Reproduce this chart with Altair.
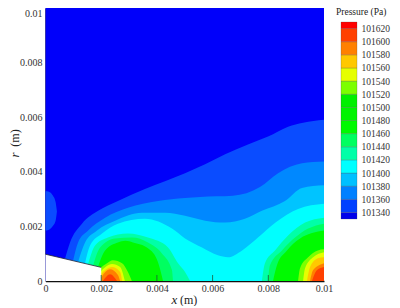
import altair as alt
import pandas as pd

# contour levels: x and top r, both in mm
base_x = [0, 10]; base_y = [10, 10]
a_x = [0.70,0.88,1.31,1.89,2.60,3.57,5.01,5.73,6.45,7.27,7.99,8.71,9.25,10]
a_y = [0.81,1.41,2.10,2.57,2.93,3.37,3.95,4.28,4.64,5.00,5.29,5.65,5.80,5.91]
b_x = [0.99,1.17,1.53,2.14,2.96,4.04,5.01,5.55,6.73,7.70,8.35,9.21,10]
b_y = [0.74,1.41,1.85,2.32,2.68,2.93,3.04,3.08,3.12,3.44,3.95,4.31,4.38]
c_x = [1.17,1.42,1.85,2.50,3.46,4.29,5.01,5.73,6.45,7.16,7.77,8.60,9.21,10]
c_y = [0.70,1.41,1.85,2.21,2.50,2.50,2.39,2.21,2.14,2.28,2.57,2.93,3.41,3.51]
d_x = [1.42,1.60,2.03,2.60,3.57,4.54,5.01,5.62,6.19,6.55,7.06,7.63,8.26,9.07,10]
d_y = [0.64,1.30,1.74,2.10,2.28,1.92,1.56,1.23,0.94,0.87,1.12,1.59,2.14,2.64,2.83]
e1_x = [1.53,1.78,2.24,2.96,3.68,4.40,4.76,5.01,5.19]
e1_y = [0.62,1.30,1.59,1.74,1.59,1.23,0.65,0.33,0]
e2_x = [7.77,7.88,8.24,8.71,9.32,10]
e2_y = [0,0.65,1.12,1.67,2.14,2.32]
f1_x = [1.71,1.96,2.50,3.11,3.68,4.18,4.54,4.58]
f1_y = [0.58,1.23,1.56,1.59,1.41,1.01,0.40,0]
f2_x = [7.99,8.06,8.49,8.96,9.43,10]
f2_y = [0,0.58,1.12,1.59,1.92,2.10]
g1_x = [1.89,2.14,2.60,2.87,3.14,3.68,4.04,4.22]
g1_y = [0.54,1.12,1.41,1.47,1.41,1.20,0.69,0]
g2_x = [8.17,8.31,8.67,9.14,10]
g2_y = [0,0.58,1.12,1.56,1.85]
l1_x = [1.96,2.21,2.42,2.75,2.96,3.10]
l1_y = [0.47,0.65,0.76,0.65,0.33,0]
l2_x = [9.07,9.14,9.43,9.78,10]
l2_y = [0,0.47,0.87,1.12,1.16]
y1_x = [1.96,2.39,2.68,2.85]
y1_y = [0.33,0.62,0.51,0]
y2_x = [9.25,9.32,9.61,10]
y2_y = [0,0.47,0.87,1.05]
m1_x = [1.96,2.39,2.68,2.75]
m1_y = [0.22,0.51,0.33,0]
m2_x = [9.39,9.50,9.78,10]
m2_y = [0,0.51,0.83,0.87]
o1_x = [1.96,2.32,2.60,2.68]
o1_y = [0.07,0.43,0.22,0]
o2_x = [9.50,9.61,10]
o2_y = [0,0.40,0.65]
r1_x = [2.06,2.32,2.57]
r1_y = [0,0.25,0]
r2_x = [9.57,9.75,10]
r2_y = [0,0.40,0.51]
wedge_x = [0, 2]
wedge_y = [0.98, 0.50]
# left-wall blob
blob_x = [0, 0.10, 0.25, 0.36, 0.41]
blob_top = [3.30, 3.28, 3.15, 2.90, 2.55]
blob_bot = [1.85, 1.87, 2.0, 2.20, 2.55]

levels = [101340 + 20*i for i in range(15)]
legend_lo = [101330] + levels
legend_hi = levels + [101630]
legend_colors = ['#0000ea','#0040ff','#0080ff','#00c0ff','#00ffff','#00ffa8','#00ff60','#00fa00',
                 '#00f400','#00f000','#7cff00','#e6ff00','#ffc800','#ff8000','#ff4000','#ff0000']

xt = [0, 0.002, 0.004, 0.006, 0.008, 0.01]
yt = [0, 0.002, 0.004, 0.006, 0.008, 0.01]

SERIF = 'Liberation Serif'
xs = alt.Scale(domain=[0, 0.01], nice=False)
ys = alt.Scale(domain=[0, 0.01], nice=False)
xaxis = alt.Axis(values=xt, format='~g', grid=False, tickSize=0, labelPadding=2, labelFont=SERIF, title=None,
                 labelFontSize=10, labelColor='#333', domainColor='#111', domainWidth=1.5,
                 labelFlush=False, labelOverlap=False)
yaxis = alt.Axis(values=yt, format='~g', grid=False, tickSize=0, labelPadding=3.5, labelFont=SERIF, title=None,
                 labelFontSize=10, labelColor='#333', domainColor='#333', domainWidth=1.5,
                 labelBaseline=alt.expr("datum.value == 0.01 ? 'top' : 'middle'"),
                 labelFlush=False, labelOverlap=False)
X = alt.X('x:Q', scale=xs, axis=xaxis)
Y = alt.Y('y:Q', scale=ys, axis=yaxis)

def frame(xv, yv):
    return pd.DataFrame({'x': [v*1e-3 for v in xv], 'y': [v*1e-3 for v in yv]})

def area(xv, yv, color, interp='monotone'):
    return alt.Chart(frame(xv, yv)).mark_area(color=color, interpolate=interp, opacity=1).encode(
        x=X, y=Y, y2=alt.datum(0))

blob_df = frame(blob_x, blob_top).assign(y0=[v*1e-3 for v in blob_bot])
blob = alt.Chart(blob_df).mark_area(color='#0a4cff', interpolate='monotone', opacity=1).encode(
    x=X, y=Y, y2='y0:Q')

groups = [
    (a_x,a_y,'#0a4cff'),(b_x,b_y,'#0088ff'),(c_x,c_y,'#00c4ff'),(d_x,d_y,'#00ffff'),
    (e1_x,e1_y,'#00ffa8'),(e2_x,e2_y,'#00ffa8'),(f1_x,f1_y,'#00ff60'),(f2_x,f2_y,'#00ff60'),
    (g1_x,g1_y,'#00fa00'),(g2_x,g2_y,'#00fa00'),(l1_x,l1_y,'#7cff00'),(l2_x,l2_y,'#7cff00'),
    (y1_x,y1_y,'#e6ff00'),(y2_x,y2_y,'#e6ff00'),(m1_x,m1_y,'#ffc800'),(m2_x,m2_y,'#ffc800'),
    (o1_x,o1_y,'#ff8000'),(o2_x,o2_y,'#ff8000'),(r1_x,r1_y,'#ff4000'),(r2_x,r2_y,'#ff4000'),
]
layers = [area(base_x, base_y, '#0000fa', 'linear'), blob] + [area(*g) for g in groups]

wedge = alt.Chart(frame(wedge_x, wedge_y)).mark_area(
    color='white', opacity=1, line={'color':'#223', 'strokeWidth':0.8}).encode(x=X, y=Y, y2=alt.datum(0))
layers.append(wedge)

ticks = alt.Chart(frame([2,4,6,8],[0.22]*4)).mark_rule(
    color='#1a5a3a', strokeWidth=1, opacity=0.8).encode(x=X, y=Y, y2=alt.datum(0))
layers.append(ticks)

main = alt.layer(*layers)

legend_df = pd.DataFrame({'lo':legend_lo,'hi':legend_hi,'c':legend_colors})
legend = alt.Chart(legend_df).mark_rect(stroke='#444', strokeWidth=0.4, strokeOpacity=0.6).encode(
    x=alt.value(295.5), x2=alt.value(311.5),
    y=alt.Y('lo:Q', scale=alt.Scale(domain=[101330,101630], range=[211,14], nice=False),
            axis=alt.Axis(orient='right', offset=37, values=levels, format='d', domain=False, ticks=False,
                          grid=False, labelPadding=0, labelFont=SERIF, labelFontSize=9.5, labelColor='#333',
                          labelOverlap=False, labelFlush=False, title=None)),
    y2='hi:Q',
    color=alt.Color('c:N', scale=None))

def label(t, px, py, size, style='normal', angle=0, align='left'):
    return alt.Chart(pd.DataFrame({'t':[t]})).mark_text(font=SERIF, fontSize=size, fontStyle=style, angle=angle,
        align=align, baseline='middle', color='#222').encode(
        x=alt.value(px), y=alt.value(py), text='t:N')

texts = [
    label('Pressure (Pa)', 290.5, 4, 9.5),
    label('x', 126, 292, 13, 'italic'),
    label('(m)', 134.5, 292, 12),
    label('r', -31, 147, 13, 'italic', 270, 'center'),
    label('(m)', -31, 130, 12, 'normal', 270, 'center'),
]

chart = alt.layer(main, legend, *texts).resolve_scale(x='independent', y='independent', color='independent').properties(
    width=278.5, height=273,
    autosize=alt.AutoSizeParams(type='none'),
    padding={'left':37.5,'top':0,'right':68,'bottom':25},
).configure_view(stroke=None)

chart.save("out.html", embed_options={"renderer": "svg", "actions": False})
